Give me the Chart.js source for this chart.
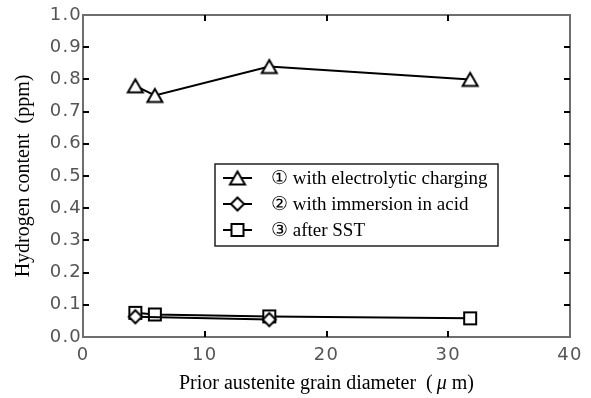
<!DOCTYPE html>
<html>
<head>
<meta charset="utf-8">
<script src="https://cdn.jsdelivr.net/npm/chart.js@4.4.1/dist/chart.umd.min.js"></script>
<style>
  html, body { margin: 0; padding: 0; background: #fff; }
  #wrap { width: 591px; height: 398px; }
  canvas { display: block; }
</style>
</head>
<body>
<div id="wrap"><canvas id="chart" width="591" height="398"></canvas></div>
<script>
// Grain diameter (μm) and hydrogen content (ppm) for each condition
const chargingDiameters = [4.3, 5.9, 15.3, 31.8];
const chargingHydrogen  = [0.78, 0.75, 0.84, 0.80];
const acidDiameters     = [4.3, 15.3];
const acidHydrogen      = [0.063, 0.054];
const sstDiameters      = [4.3, 5.9, 15.3, 31.8];
const sstHydrogen       = [0.075, 0.07, 0.064, 0.058];

const seriesLabels = [
  '\u2460 with electrolytic charging',
  '\u2461 with immersion in acid',
  '\u2462 after SST'
];

const xTickValues = [0, 10, 20, 30, 40];
const yTickValues = [0, 0.1, 0.2, 0.3, 0.4, 0.5, 0.6, 0.7, 0.8, 0.9, 1.0];
// x title pieces: the micro sign is set in italic
const xTitleParts = [['Prior austenite grain diameter  (\u2009', false], ['\u03bc', true], [' m)', false]];
const yTitle = 'Hydrogen content  (ppm)';

const serif = '"Liberation Serif", "Times New Roman", serif';
const sans = '"DejaVu Sans", "Liberation Sans", sans-serif';

// Open markers drawn once onto small canvases so that each symbol is centred on its box
function marker(kind) {
  const c = document.createElement('canvas');
  const w = kind === 'triangle' ? 20 : 18;
  const h = 18;
  c.width = w; c.height = h;
  const g = c.getContext('2d');
  g.lineWidth = 2;
  g.strokeStyle = '#000';
  g.fillStyle = '#fff';
  g.lineJoin = 'miter';
  g.beginPath();
  if (kind === 'triangle') {
    g.moveTo(10, 2.5); g.lineTo(17.5, 15.5); g.lineTo(2.5, 15.5); g.closePath();
  } else if (kind === 'diamond') {
    g.moveTo(9, 2.5); g.lineTo(15.5, 9); g.lineTo(9, 15.5); g.lineTo(2.5, 9); g.closePath();
  } else {
    g.rect(3, 3, 12, 12);
  }
  g.fill();
  g.stroke();
  return c;
}

const toPoints = (xs, ys) => xs.map((x, i) => ({ x: x, y: ys[i] }));

// Wider tracking for the numeric tick labels
const tickSpacing = {
  id: 'tickSpacing',
  beforeDraw(chart) {
    if ('letterSpacing' in chart.ctx) chart.ctx.letterSpacing = '1.2px';
  },
  beforeDatasetsDraw(chart) {
    if ('letterSpacing' in chart.ctx) chart.ctx.letterSpacing = '0px';
  }
};

// Plot frame with inward tick marks on all four sides
const framePlugin = {
  id: 'frame',
  beforeDatasetsDraw(chart) {
    const { ctx, chartArea: a, scales } = chart;
    ctx.save();
    ctx.strokeStyle = '#6e6e6e';
    ctx.lineWidth = 2;
    ctx.strokeRect(a.left, a.top, a.right - a.left, a.bottom - a.top);
    ctx.strokeStyle = '#000';
    ctx.lineWidth = 2;
    ctx.beginPath();
    const len = 6;
    scales.x.ticks.forEach(t => {
      if (t.value <= scales.x.min || t.value >= scales.x.max) return;
      const px = Math.round(scales.x.getPixelForValue(t.value));
      ctx.moveTo(px, a.bottom); ctx.lineTo(px, a.bottom - len);
      ctx.moveTo(px, a.top); ctx.lineTo(px, a.top + len);
    });
    scales.y.ticks.forEach(t => {
      if (t.value <= scales.y.min || t.value >= scales.y.max) return;
      const py = Math.round(scales.y.getPixelForValue(t.value));
      ctx.moveTo(a.left, py); ctx.lineTo(a.left + len, py);
      ctx.moveTo(a.right, py); ctx.lineTo(a.right - len, py);
    });
    ctx.stroke();
    ctx.restore();
  }
};

// Axis titles
const axisTitles = {
  id: 'axisTitles',
  afterDraw(chart) {
    const { ctx, chartArea: a } = chart;
    ctx.save();
    ctx.fillStyle = '#000';
    ctx.textBaseline = 'alphabetic';
    ctx.textAlign = 'left';
    const fonts = [ '20px ' + serif, 'italic 20px ' + serif ];
    let total = 0;
    const widths = xTitleParts.map(([txt, it]) => {
      ctx.font = fonts[it ? 1 : 0];
      const w = ctx.measureText(txt).width;
      total += w;
      return w;
    });
    let x = (a.left + a.right) / 2 - total / 2;
    const baseline = 389;
    xTitleParts.forEach(([txt, it], i) => {
      ctx.font = fonts[it ? 1 : 0];
      ctx.fillText(txt, x, baseline);
      x += widths[i];
    });
    ctx.translate(29, (a.top + a.bottom) / 2);
    ctx.rotate(-Math.PI / 2);
    ctx.font = fonts[0];
    ctx.textAlign = 'center';
    ctx.fillText(yTitle, 0, 0);
    ctx.restore();
  }
};

// Boxed legend inside the plot: line sample with marker, then the label
const boxLegend = {
  id: 'boxLegend',
  afterDatasetsDraw(chart) {
    const { ctx, chartArea: a } = chart;
    const x0 = a.left + 132, y0 = a.top + 149, w = 283, h = 82;
    ctx.save();
    ctx.fillStyle = '#fff';
    ctx.fillRect(x0, y0, w, h);
    ctx.strokeStyle = '#222';
    ctx.lineWidth = 1.5;
    ctx.strokeRect(x0, y0, w, h);
    chart.data.datasets.forEach((ds, i) => {
      const cy = y0 + 14 + i * 26;
      ctx.strokeStyle = '#000';
      ctx.lineWidth = 2;
      ctx.beginPath();
      ctx.moveTo(x0 + 8, cy);
      ctx.lineTo(x0 + 37, cy);
      ctx.stroke();
      const img = ds.pointStyle;
      ctx.drawImage(img, x0 + 22.5 - img.width / 2, cy - img.height / 2);
      ctx.fillStyle = '#000';
      ctx.font = '19px ' + serif;
      ctx.textAlign = 'left';
      ctx.textBaseline = 'middle';
      ctx.fillText(ds.label, x0 + 56, cy + 1);
    });
    ctx.restore();
  }
};

const lineStyle = {
  borderColor: '#000',
  borderWidth: 2,
  tension: 0,
  fill: false,
  showLine: true
};

new Chart(document.getElementById('chart'), {
  type: 'scatter',
  data: {
    datasets: [
      Object.assign({ label: seriesLabels[0], data: toPoints(chargingDiameters, chargingHydrogen), pointStyle: marker('triangle') }, lineStyle),
      Object.assign({ label: seriesLabels[1], data: toPoints(acidDiameters, acidHydrogen), pointStyle: marker('diamond') }, lineStyle),
      Object.assign({ label: seriesLabels[2], data: toPoints(sstDiameters, sstHydrogen), pointStyle: marker('square') }, lineStyle)
    ]
  },
  options: {
    responsive: false,
    animation: false,
    devicePixelRatio: 1,
    layout: { padding: { left: 0, top: 15, right: 21, bottom: 0 } },
    plugins: {
      legend: { display: false },
      tooltip: { enabled: false }
    },
    scales: {
      x: {
        type: 'linear',
        min: 0,
        max: 40,
        afterBuildTicks: s => { s.ticks = xTickValues.map(v => ({ value: v })); },
        afterFit: s => { s.height = 61; },
        grid: { display: false, drawTicks: false },
        border: { display: false },
        ticks: {
          padding: 8,
          color: '#555',
          font: { family: sans, size: 18 },
          callback: v => String(v)
        },
        title: { display: false }
      },
      y: {
        type: 'linear',
        min: 0,
        max: 1,
        afterBuildTicks: s => { s.ticks = yTickValues.map(v => ({ value: v })); },
        afterFit: s => { s.width = 83; },
        grid: { display: false, drawTicks: false },
        border: { display: false },
        ticks: {
          padding: 1,
          color: '#555',
          font: { family: sans, size: 18 },
          callback: v => Number(v).toFixed(1)
        },
        title: { display: false }
      }
    }
  },
  plugins: [tickSpacing, framePlugin, boxLegend, axisTitles]
});
</script>
</body>
</html>
